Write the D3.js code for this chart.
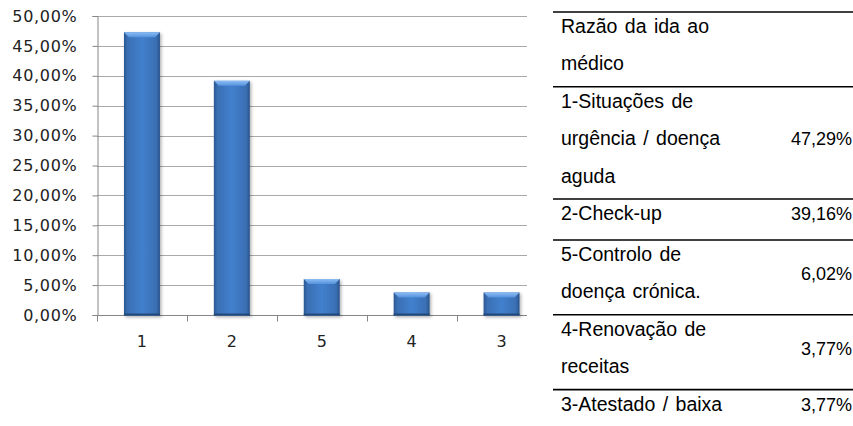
<!DOCTYPE html>
<html>
<head>
<meta charset="utf-8">
<script src="https://cdn.jsdelivr.net/npm/d3@7"></script>
<style>
  html, body { margin: 0; padding: 0; background: #fff; }
  svg { display: block; }
</style>
</head>
<body>
<div id="chart"></div>
<script>
// chart data
var categories = ['1', '2', '5', '4', '3'];
var values = [47.29, 39.16, 6.02, 3.77, 3.77];
var yTicks = [0, 5, 10, 15, 20, 25, 30, 35, 40, 45, 50];

// table data (same order as the bars)
var tableHeader = ['Razão da ida ao', 'médico'];
var rowLabels = [
  ['1-Situações de', 'urgência / doença', 'aguda'],
  ['2-Check-up'],
  ['5-Controlo de', 'doença crónica.'],
  ['4-Renovação de', 'receitas'],
  ['3-Atestado / baixa']
];

var width = 853, height = 426;
var plot = {left: 97, right: 546.5, top: 16, bottom: 315};
var clipRight = 527; // the chart picture is cut off here

var svg = d3.select('#chart').append('svg')
  .attr('width', width)
  .attr('height', height);

var defs = svg.append('defs');
var grad = defs.append('linearGradient').attr('id', 'barGrad')
  .attr('x1', '0%').attr('x2', '100%').attr('y1', '0%').attr('y2', '0%');
[['0%', '#2a5791'], ['10%', '#3a6fb3'], ['50%', '#4280ce'], ['90%', '#3a6fb3'], ['100%', '#28528a']]
  .forEach(function (s) { grad.append('stop').attr('offset', s[0]).attr('stop-color', s[1]); });
var topGrad = defs.append('linearGradient').attr('id', 'topGrad')
  .attr('x1', '0%').attr('x2', '0%').attr('y1', '0%').attr('y2', '100%');
[['0%', '#8cbdf5'], ['100%', '#5592dc']]
  .forEach(function (s) { topGrad.append('stop').attr('offset', s[0]).attr('stop-color', s[1]); });
var shadow = defs.append('filter').attr('id', 'shadow')
  .attr('x', '-20%').attr('y', '-10%').attr('width', '150%').attr('height', '130%');
shadow.append('feDropShadow').attr('dx', 1.5).attr('dy', 1.5).attr('stdDeviation', 1.5)
  .attr('flood-color', '#000').attr('flood-opacity', 0.3);

var x = d3.scaleBand()
  .domain(categories)
  .range([plot.left, plot.right])
  .paddingInner(0.6)
  .paddingOuter(0.3);
// same bands with no padding, for tick marks at the boundaries
var xb = d3.scaleBand().domain(categories).range(x.range());
var y = d3.scaleLinear().domain([0, 50]).range([plot.bottom, plot.top]);

var fmt = function (v) { return d3.format('.2f')(v).replace('.', ',') + '%'; };

// gridlines
svg.append('g').selectAll('line').data(yTicks.slice(1)).join('line')
  .attr('x1', plot.left).attr('x2', clipRight)
  .attr('y1', function (d) { return Math.round(y(d)) + 0.5; })
  .attr('y2', function (d) { return Math.round(y(d)) + 0.5; })
  .attr('stroke', '#a9a9a9').attr('stroke-width', 1.2);

// y axis
var yAxis = svg.append('g').attr('class', 'y-axis')
  .attr('transform', 'translate(' + (plot.left + 0.5) + ', 0)')
  .call(d3.axisLeft(y).tickValues(yTicks).tickSize(5).tickPadding(15)
    .tickFormat(function (d) { return fmt(d); }));
yAxis.select('.domain').attr('stroke', '#868686');
yAxis.selectAll('.tick line').attr('stroke', '#868686');
yAxis.selectAll('text')
  .attr('font-family', 'DejaVu Sans, Verdana, sans-serif')
  .attr('font-size', 16).attr('letter-spacing', 0.7).attr('fill', '#222');

// x axis
var y0 = Math.round(y(0)) + 0.5;
svg.append('line').attr('x1', plot.left).attr('x2', clipRight)
  .attr('y1', y0).attr('y2', y0).attr('stroke', '#868686');
svg.append('g').selectAll('line').data(categories).join('line')
  .attr('x1', function (d) { return Math.round(xb(d)) + 0.5; })
  .attr('x2', function (d) { return Math.round(xb(d)) + 0.5; })
  .attr('y1', y0).attr('y2', y0 + 6)
  .attr('stroke', '#868686');
svg.append('g').selectAll('text').data(categories).join('text')
  .attr('x', function (d) { return x(d) + x.bandwidth() / 2; })
  .attr('y', y0 + 31)
  .attr('text-anchor', 'middle')
  .attr('font-family', 'DejaVu Sans, Verdana, sans-serif')
  .attr('font-size', 16).attr('fill', '#222')
  .text(function (d) { return d; });

// bars
var bars = svg.append('g').selectAll('g').data(categories).join('g')
  .attr('filter', 'url(#shadow)');
bars.append('rect')
  .attr('x', function (d) { return x(d); })
  .attr('y', function (d, i) { return y(values[i]); })
  .attr('width', x.bandwidth())
  .attr('height', function (d, i) { return y0 - y(values[i]); })
  .attr('fill', 'url(#barGrad)');
bars.append('path')
  .attr('d', function (d, i) {
    var x0 = x(d), x1 = x(d) + x.bandwidth(), t = y(values[i]), b = 5;
    return 'M' + x0 + ',' + t + 'L' + x1 + ',' + t + 'L' + (x1 - b) + ',' + (t + b) +
      'L' + (x0 + b) + ',' + (t + b) + 'Z';
  })
  .attr('fill', 'url(#topGrad)');
bars.append('rect')
  .attr('x', function (d) { return x(d); })
  .attr('y', y0 - 2)
  .attr('width', x.bandwidth())
  .attr('height', 2)
  .attr('fill', '#244a7c');

// table on the right
var tLeft = 553, tRight = 853, textX = 561, valX = 852;
var lineH = 37.4, firstLine = 21;
var rows = [{lines: tableHeader, value: ''}].concat(rowLabels.map(function (l, i) {
  return {lines: l, value: fmt(values[i])};
}));
var rowTop = 12;
rows.forEach(function (r) {
  r.top = rowTop;
  r.h = r.lines.length === 1 ? 41 : r.lines.length * lineH;
  rowTop += r.h;
});

var table = svg.append('g').attr('font-family', 'Liberation Sans, Arial, sans-serif')
  .attr('fill', '#000');
table.selectAll('line').data(rows).join('line')
  .attr('x1', tLeft).attr('x2', tRight)
  .attr('y1', function (d) { return d.top; })
  .attr('y2', function (d) { return d.top; })
  .attr('stroke', '#000').attr('stroke-width', 1.6);

var rowG = table.selectAll('g').data(rows).join('g');
rowG.selectAll('text.lbl').data(function (d) {
  return d.lines.map(function (t, j) { return {t: t, y: d.top + firstLine + j * lineH}; });
}).join('text').attr('class', 'lbl')
  .attr('x', textX)
  .attr('y', function (d) { return d.y; })
  .attr('font-size', 19.5)
  .attr('word-spacing', 2)
  .text(function (d) { return d.t; });
rowG.append('text')
  .attr('x', valX)
  .attr('y', function (d) { return d.top + firstLine + (d.lines.length - 1) * lineH / 2; })
  .attr('text-anchor', 'end')
  .attr('font-size', 18)
  .text(function (d) { return d.value; });
</script>
</body>
</html>
